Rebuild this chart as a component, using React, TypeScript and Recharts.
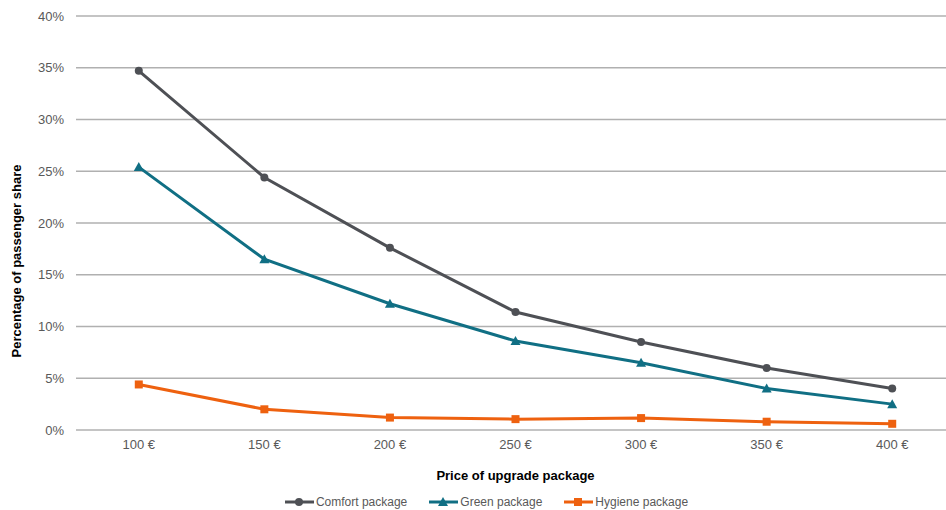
import { LineChart, Line, XAxis, YAxis, CartesianGrid, Legend } from 'recharts';

const prices = ['100 €', '150 €', '200 €', '250 €', '300 €', '350 €', '400 €'];
const comfort = [34.7, 24.4, 17.6, 11.4, 8.5, 6.0, 4.0];
const green = [25.4, 16.5, 12.2, 8.6, 6.5, 4.0, 2.5];
const hygiene = [4.4, 2.0, 1.2, 1.05, 1.15, 0.8, 0.6];
const yTicks = [0, 5, 10, 15, 20, 25, 30, 35, 40];

const data = prices.map((p, i) => ({
  price: p,
  comfort: comfort[i],
  green: green[i],
  hygiene: hygiene[i],
}));

const COLORS = {
  comfort: '#4e5055',
  green: '#106f84',
  hygiene: '#ee610f',
};

const FONT = '"Liberation Sans", Arial, sans-serif';

function Marker({ kind, cx, cy, color }: { kind: string; cx: number; cy: number; color: string }) {
  if (kind === 'circle') return <circle cx={cx} cy={cy} r={4} fill={color} />;
  if (kind === 'triangle')
    return <polygon points={`${cx},${cy - 5} ${cx + 5},${cy + 4} ${cx - 5},${cy + 4}`} fill={color} />;
  return <rect x={cx - 4} y={cy - 4} width={8} height={8} fill={color} />;
}

const dotFor = (kind: string, color: string) => (props: any) => {
  const { cx, cy, key } = props;
  if (cx == null || cy == null) return <g key={key} />;
  return <Marker key={key} kind={kind} cx={cx} cy={cy} color={color} />;
};

const legendItems = [
  { name: 'Comfort package', kind: 'circle', color: COLORS.comfort },
  { name: 'Green package', kind: 'triangle', color: COLORS.green },
  { name: 'Hygiene package', kind: 'square', color: COLORS.hygiene },
];

function LegendContent() {
  return (
    <div style={{ display: 'flex', justifyContent: 'center', gap: 21, paddingLeft: 17, paddingTop: 5, fontFamily: FONT, fontSize: 12, color: '#595959' }}>
      {legendItems.map(it => (
        <div key={it.name} style={{ display: 'flex', alignItems: 'center' }}>
          <svg width={32} height={12}>
            <line x1={1} y1={6} x2={30} y2={6} stroke={it.color} strokeWidth={3} />
            <Marker kind={it.kind} cx={15} cy={6} color={it.color} />
          </svg>
          <span>{it.name}</span>
        </div>
      ))}
    </div>
  );
}

function YTitle() {
  return (
    <text x={16} y={261} transform="rotate(-90 16 261)" textAnchor="middle" dominantBaseline="central"
      fill="#000" fontSize={13} fontWeight="bold" fontFamily={FONT}>
      Percentage of passenger share
    </text>
  );
}

export default function App() {
  return (
    <div style={{ position: 'absolute', left: 0, top: 0, width: 946, height: 510, overflow: 'hidden', background: '#fff' }}>
      <LineChart width={955} height={510} data={data} margin={{ top: 16, right: 0, left: 0, bottom: 0 }}>
        <CartesianGrid vertical={false} stroke="#b0b0b0" strokeWidth={1.4} />
        <XAxis
          dataKey="price"
          scale="band"
          axisLine={false}
          tickLine={false}
          height={60}
          tickMargin={4}
          tick={{ fill: '#595959', fontSize: 13, fontFamily: FONT }}
          label={{ value: 'Price of upgrade package', position: 'insideBottom', offset: 10, fill: '#000', fontSize: 13, fontWeight: 'bold', fontFamily: FONT }}
        />
        <YAxis
          domain={[0, 40]}
          ticks={yTicks}
          tickFormatter={(v: number) => `${v}%`}
          axisLine={false}
          tickLine={false}
          width={76}
          tickMargin={6}
          tick={{ fill: '#595959', fontSize: 13, fontFamily: FONT }}
          label={<YTitle />}
        />
        <Legend verticalAlign="bottom" height={20} content={<LegendContent />} />
        <Line dataKey="comfort" name="Comfort package" stroke={COLORS.comfort} strokeWidth={3} dot={dotFor('circle', COLORS.comfort)} isAnimationActive={false} />
        <Line dataKey="green" name="Green package" stroke={COLORS.green} strokeWidth={3} dot={dotFor('triangle', COLORS.green)} isAnimationActive={false} />
        <Line dataKey="hygiene" name="Hygiene package" stroke={COLORS.hygiene} strokeWidth={3} dot={dotFor('square', COLORS.hygiene)} isAnimationActive={false} />
      </LineChart>
    </div>
  );
}
